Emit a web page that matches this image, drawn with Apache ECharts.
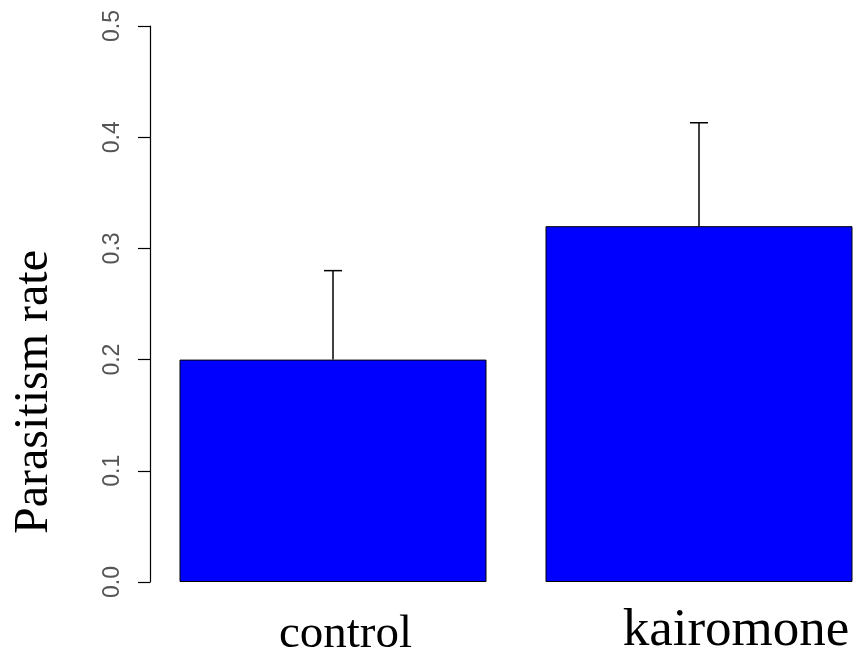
<!DOCTYPE html>
<html>
<head>
<meta charset="utf-8">
<script src="https://cdn.jsdelivr.net/npm/echarts@6/dist/echarts.min.js"></script>
<style>
  html, body { margin: 0; padding: 0; background: #fff; }
  #container { width: 861px; height: 651px; }
</style>
</head>
<body>
<div id="container"></div>
<script>
var categories = ['control', 'kairomone'];
var rates = [0.2, 0.32];
var upper = [0.28, 0.413];   // top of the error bars
var yTicks = [0, 0.1, 0.2, 0.3, 0.4, 0.5];

var dom = document.getElementById('container');
var myChart = echarts.init(dom);

var option = {
	backgroundColor: '#fff',
	animation: false,
	grid: {
		left: 150,
		right: -21,
		top: 26,
		bottom: 69,
		containLabel: false,
		outerBoundsMode: 'none'
	},
	xAxis: {
		type: 'category',
		data: categories,
		axisLine: { show: false },
		axisTick: { show: false },
		axisLabel: {
			margin: 22,
			fontFamily: 'Liberation Serif',
			color: '#000',
			formatter: function (v) { return '{' + (v === 'control' ? 'a' : 'b') + '|' + v + '}'; },
			rich: {
				a: { fontFamily: 'Liberation Serif', fontSize: 47, color: '#000', padding: [7, 0, 0, 25] },
				b: { fontFamily: 'Liberation Serif', fontSize: 53, color: '#000', padding: [1, 0, 0, 74] }
			}
		}
	},
	yAxis: {
		type: 'value',
		min: 0,
		max: 0.5,
		interval: 0.1,
		name: 'Parasitism rate',
		nameLocation: 'middle',
		nameRotate: 90,
		nameGap: 92,
		nameTextStyle: {
			fontFamily: 'Liberation Serif',
			fontSize: 48,
			color: '#000',
			padding: [0, 176, 0, 0]
		},
		splitLine: { show: false },
		axisLine: { show: true, lineStyle: { color: '#000', width: 1.2 } },
		axisTick: { show: true, length: 12, lineStyle: { color: '#000', width: 1.2 } },
		axisLabel: {
			rotate: 90,
			margin: 26,
			fontFamily: 'Liberation Sans',
			fontSize: 23,
			color: '#555',
			formatter: function (v) {
				var i = yTicks.indexOf(Math.round(v * 10) / 10);
				return i >= 0 ? yTicks[i].toFixed(1) : '';
			}
		}
	},
	series: [{
		type: 'bar',
		data: rates,
		barWidth: 307,
		itemStyle: { color: '#0000ff', borderColor: '#000', borderWidth: 1 }
	}, {
		type: 'custom',
		data: categories.map(function (c, i) { return [i, rates[i], upper[i]]; }),
		renderItem: function (params, api) {
			var base = api.coord([api.value(0), api.value(1)]);
			var top = api.coord([api.value(0), api.value(2)]);
			var style = { stroke: '#000', lineWidth: 1.5 };
			return {
				type: 'group',
				children: [
					{ type: 'line', shape: { x1: base[0], y1: base[1], x2: top[0], y2: top[1] }, style: style },
					{ type: 'line', shape: { x1: top[0] - 9, y1: top[1], x2: top[0] + 9, y2: top[1] }, style: style }
				]
			};
		},
		z: 5
	}]
};

myChart.setOption(option);
</script>
</body>
</html>
